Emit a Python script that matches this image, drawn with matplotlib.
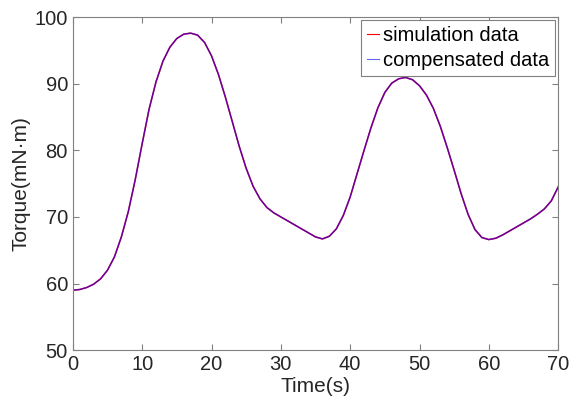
import numpy as np
import matplotlib.pyplot as plt

plt.rcParams['font.family'] = ['Liberation Sans', 'DejaVu Sans']

# values
time_s = [0, 1, 2, 3, 4, 5, 6, 7, 8, 9, 10, 11, 12, 13, 14, 15, 16, 17, 18,
          19, 20, 21, 22, 23, 24, 25, 26, 27, 28, 29, 30, 31, 32, 33, 34, 35,
          36, 37, 38, 39, 40, 41, 42, 43, 44, 45, 46, 47, 48, 49, 50, 51, 52,
          53, 54, 55, 56, 57, 58, 59, 60, 61, 62, 63, 64, 65, 66, 67, 68, 69,
          70]
torque = [59.0, 59.1, 59.4, 59.9, 60.7, 62.0, 64.0, 67.0, 70.8, 75.6, 81.0,
          86.2, 90.3, 93.4, 95.5, 96.8, 97.45, 97.6, 97.3, 96.2, 94.2, 91.4,
          88.0, 84.3, 80.6, 77.3, 74.6, 72.7, 71.4, 70.6, 70.0, 69.4, 68.8,
          68.2, 67.6, 67.0, 66.7, 67.1, 68.2, 70.2, 73.0, 76.5, 80.0, 83.4,
          86.4, 88.7, 90.1, 90.75, 90.95, 90.6, 89.7, 88.3, 86.3, 83.6, 80.4,
          77.0, 73.5, 70.4, 68.1, 66.9, 66.6, 66.8, 67.3, 67.9, 68.5, 69.1,
          69.7, 70.4, 71.2, 72.4, 74.5]
compensated = torque

fig = plt.figure(figsize=(5.69, 4.09), dpi=100)
ax = fig.add_axes([0.128, 0.144, 0.853, 0.814])

ax.plot(time_s, torque, color='red', lw=1.1, label='simulation data')
ax.plot(time_s, compensated, color='blue', lw=1.1, alpha=0.6,
        label='compensated data')

ax.set_xlim(0, 70)
ax.set_ylim(50, 100)
ax.set_xticks(np.arange(0, 71, 10))
ax.set_yticks(np.arange(50, 101, 10))
ax.tick_params(direction='in', top=True, right=True, labelsize=14.5,
               colors='#808080', labelcolor='#262626', length=4)
for s in ax.spines.values():
    s.set_color('#808080')
    s.set_linewidth(0.8)

ax.set_xlabel('Time(s)', fontsize=15, color='#262626', labelpad=2)
ax.set_ylabel('Torque(mN·m)', fontsize=15, color='#262626', labelpad=3)

leg = ax.legend(loc='upper right', fontsize=14.5, handlelength=0.6,
                handletextpad=0.2, borderpad=0.3, borderaxespad=0.15,
                labelspacing=0.3, fancybox=False, framealpha=1)
for h in leg.get_lines():
    h.set_linewidth(0.8)
leg.get_frame().set_edgecolor('#808080')
leg.get_frame().set_linewidth(0.8)

plt.savefig('out.png', dpi=100)
